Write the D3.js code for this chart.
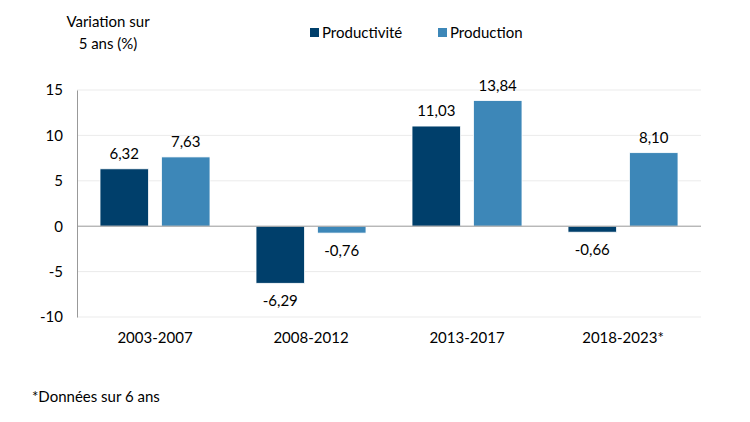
<!DOCTYPE html>
<html>
<head>
<meta charset="utf-8">
<script src="https://cdn.jsdelivr.net/npm/d3@7"></script>
<style>
  body { margin: 0; background: #fff; }
  text { font-family: Lato, 'Open Sans', sans-serif; fill: #000; }
</style>
</head>
<body>
<div id="chart"></div>
<script>
var categories = ['2003-2007', '2008-2012', '2013-2017', '2018-2023*'];
var seriesNames = ['Productivité', 'Production'];
var productivite = [6.32, -6.29, 11.03, -0.66];
var production = [7.63, -0.76, 13.84, 8.10];
var yTicks = [-10, -5, 0, 5, 10, 15];
var colors = ['#003f6b', '#3d87b8'];

var width = 750, height = 422;
var margin = { top: 90, right: 49, bottom: 105, left: 77 };

var rows = categories.map(function (c, i) {
  return { cat: c, values: [productivite[i], production[i]] };
});

var svg = d3.select('#chart')
  .append('svg')
    .attr('width', width)
    .attr('height', height);

var x0 = d3.scaleBand()
  .domain(categories)
  .range([margin.left, width - margin.right])
  .paddingInner(0.295)
  .paddingOuter(0.1475);

var x1 = d3.scaleBand()
  .domain([0, 1])
  .range([0, x0.bandwidth()])
  .paddingInner(0.21);

var y = d3.scaleLinear()
  .domain([-10, 15])
  .range([height - margin.bottom, margin.top]);

// gridlines
svg.append('g')
  .selectAll('line')
  .data(yTicks.filter(function (t) { return t !== 0; }))
  .enter().append('line')
    .attr('x1', margin.left)
    .attr('x2', width - margin.right)
    .attr('y1', function (d) { return y(d); })
    .attr('y2', function (d) { return y(d); })
    .attr('stroke', '#ebebeb')
    .attr('stroke-width', 1);

// y axis (plain hyphen for negatives, like the original)
var yAxis = svg.append('g')
  .attr('transform', 'translate(' + margin.left + ',0)')
  .call(d3.axisLeft(y)
    .tickValues(yTicks)
    .tickFormat(function (d) { return String(d); })
    .tickSize(0)
    .tickPadding(14));
yAxis.select('.domain').attr('stroke', '#999');
yAxis.selectAll('text').style('font-size', '15px');

// bars
var groups = svg.append('g')
  .selectAll('g')
  .data(rows)
  .enter().append('g')
    .attr('transform', function (d) { return 'translate(' + x0(d.cat) + ',0)'; });

groups.selectAll('rect')
  .data(function (d) { return d.values.map(function (v, i) { return { i: i, v: v }; }); })
  .enter().append('rect')
    .attr('x', function (d) { return x1(d.i); })
    .attr('width', x1.bandwidth())
    .attr('y', function (d) { return y(Math.max(0, d.v)); })
    .attr('height', function (d) { return Math.abs(y(d.v) - y(0)); })
    .attr('fill', function (d) { return colors[d.i]; })
    .attr('stroke', '#fff')
    .attr('stroke-width', 0.8);

groups.selectAll('text.val')
  .data(function (d) { return d.values.map(function (v, i) { return { i: i, v: v }; }); })
  .enter().append('text')
    .attr('class', 'val')
    .attr('x', function (d) { return x1(d.i) + x1.bandwidth() / 2; })
    .attr('y', function (d) { return d.v >= 0 ? y(d.v) - 10 : y(d.v) + 23; })
    .attr('text-anchor', 'middle')
    .style('font-size', '15px')
    .text(function (d) { return d.v.toFixed(2).replace('.', ','); });

// zero line
svg.append('line')
  .attr('x1', margin.left)
  .attr('x2', width - margin.right)
  .attr('y1', y(0))
  .attr('y2', y(0))
  .attr('stroke', '#999');

// category labels
svg.append('g')
  .selectAll('text')
  .data(categories)
  .enter().append('text')
    .attr('x', function (d) { return x0(d) + x0.bandwidth() / 2; })
    .attr('y', height - margin.bottom + 26)
    .attr('text-anchor', 'middle')
    .style('font-size', '15px')
    .text(function (d) { return d; });

// y title
svg.append('text')
  .attr('x', 108).attr('y', 27)
  .attr('text-anchor', 'middle')
  .style('font-size', '15px')
  .text('Variation sur');
svg.append('text')
  .attr('x', 108).attr('y', 49)
  .attr('text-anchor', 'middle')
  .style('font-size', '15px')
  .text('5 ans (%)');

// legend
var legendX = [310, 438];
var legend = svg.append('g')
  .selectAll('g')
  .data(seriesNames)
  .enter().append('g')
    .attr('transform', function (d, i) { return 'translate(' + legendX[i] + ',0)'; });
legend.append('rect')
  .attr('x', 0).attr('y', 28)
  .attr('width', 9).attr('height', 9)
  .attr('fill', function (d, i) { return colors[i]; });
legend.append('text')
  .attr('x', 12).attr('y', 38)
  .style('font-size', '15px')
  .text(function (d) { return d; });

// footnote
svg.append('text')
  .attr('x', 32).attr('y', 402)
  .style('font-size', '15px')
  .text('*Données sur 6 ans');
</script>
</body>
</html>
